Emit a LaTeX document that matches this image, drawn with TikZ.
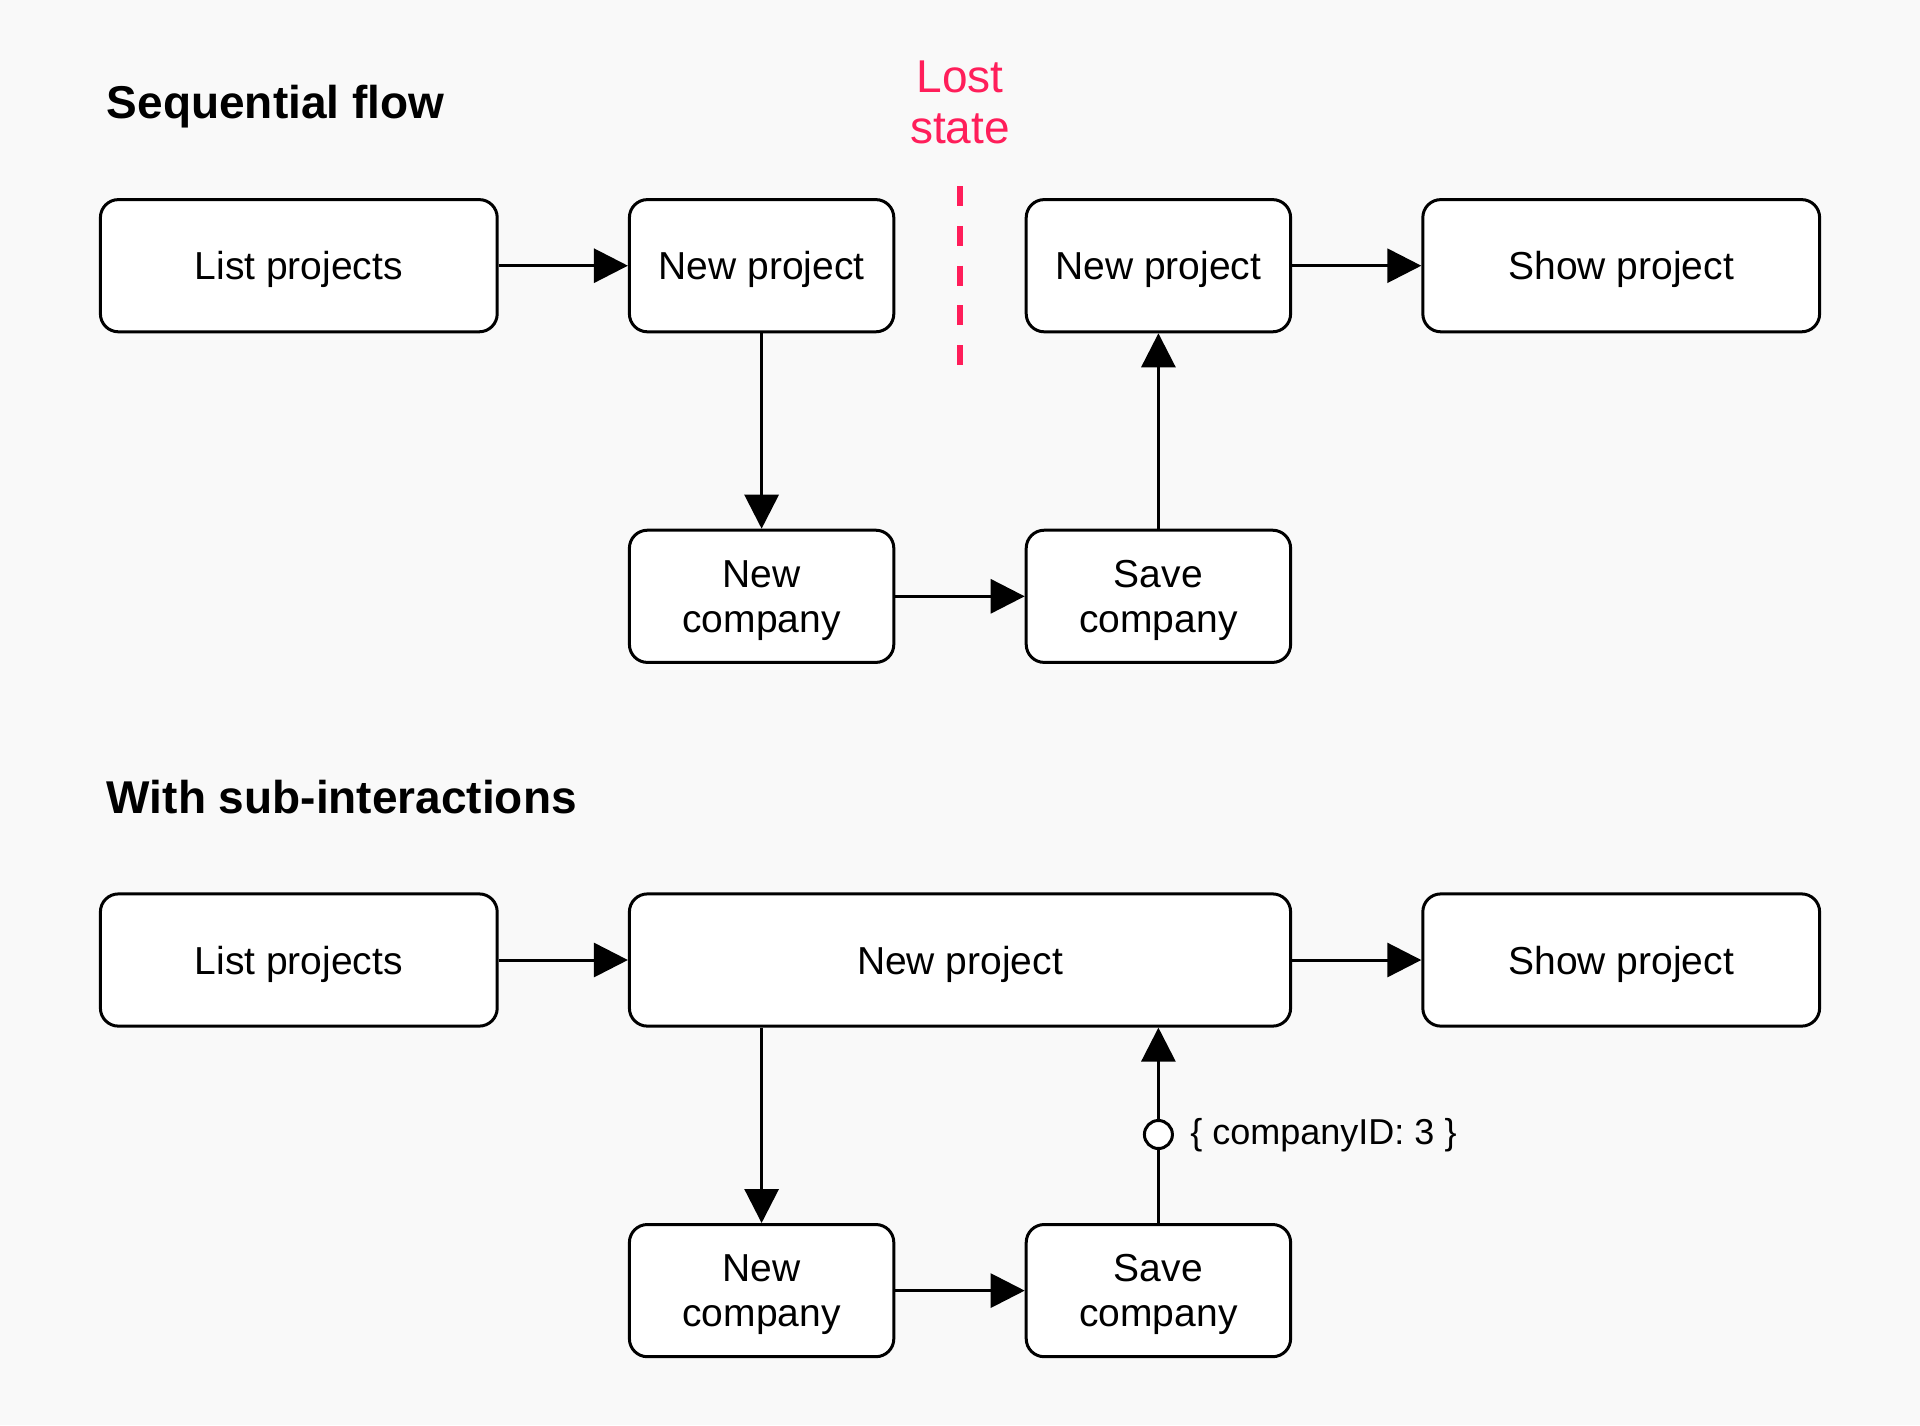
\documentclass[tikz,border=0pt]{standalone}
\usepackage{fontspec}
\setmainfont{Liberation Sans}
\usetikzlibrary{arrows.meta}
\definecolor{bg}{RGB}{249,249,249}
\definecolor{lost}{RGB}{255,30,90}
\begin{document}
\begin{tikzpicture}[x=0.5pt,y=-0.5pt,
  box/.style={draw=black, fill=white, line width=1.5pt, rounded corners=9pt, inner sep=0pt, align=center, text depth=-2pt, font=\fontsize{19.5}{22.3}\selectfont},
  wide/.style={box, minimum width=198.4pt, minimum height=66.1pt},
  narrow/.style={box, minimum width=132.2pt, minimum height=66.1pt},
  flow/.style={line width=1.5pt, -{Triangle[length=17pt,width=17pt]}},
  plain/.style={line width=1.5pt},
  title/.style={font=\fontsize{23}{27}\selectfont\bfseries, anchor=base west, inner sep=0pt}]
\fill[bg] (0,0) rectangle (1920,1425);
\useasboundingbox (0,0) rectangle (1920,1425);
% titles
\node[title] (t1) at (106.5,118.8) {Sequential flow};
\node[title] (t2) at (106.5,813) {With sub-interactions};
% top row
\node[wide] (lp1) at (298.8,265.7) {List projects};
\node[narrow] (np1) at (761.6,265.7) {New project};
\node[narrow] (np2) at (1158.4,265.7) {New project};
\node[wide] (sp1) at (1621.2,265.7) {Show project};
\node[narrow] (nc1) at (761.6,596.3) {New\\company};
\node[narrow] (sc1) at (1158.4,596.3) {Save\\company};
\draw[flow] (lp1) -- (np1);
\draw[flow] (np1) -- (nc1);
\draw[flow] (nc1) -- (sc1);
\draw[flow] (sc1) -- (np2);
\draw[flow] (np2) -- (sp1);
% lost state
\node[text=lost, font=\fontsize{23}{25.4}\selectfont, align=center, inner sep=0pt] (ls) at (960,102) {Lost\\state};
\coordinate (d1) at (960,186);
\coordinate (d2) at (960,365);
\draw[lost, line width=3.3pt, dash pattern=on 10pt off 9.875pt] (d1) -- (d2);
% bottom row
\node[wide] (lp2) at (298.8,960) {List projects};
\node[box, minimum width=330.6pt, minimum height=66.1pt] (np3) at (960,960) {New project};
\node[wide] (sp2) at (1621.2,960) {Show project};
\node[narrow] (nc2) at (761.6,1290.6) {New\\company};
\node[narrow] (sc2) at (1158.4,1290.6) {Save\\company};
\draw[flow] (lp2) -- (np3);
\draw[flow] (np3) -- (sp2);
\draw[flow] (np3.south -| nc2.north) -- (nc2.north);
\draw[flow] (nc2) -- (sc2);
\node[circle, draw=black, fill=white, line width=1.5pt, minimum size=14pt, inner sep=0pt] (cid) at (1158.4,1134.5) {};
\draw[plain] (sc2.north) -- (cid);
\draw[flow] (cid) -- (cid |- np3.south);
\node[anchor=base west, inner sep=0pt, font=\fontsize{18}{21}\selectfont] (lbl) at (1190,1144) {\{ companyID: 3 \}};
\end{tikzpicture}
\end{document}
